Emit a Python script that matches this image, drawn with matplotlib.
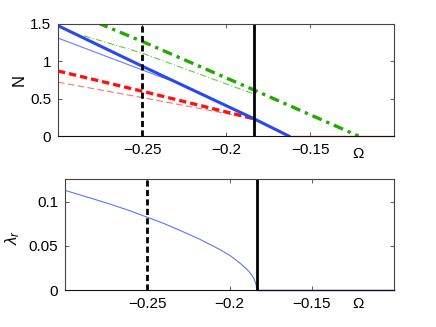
import matplotlib
matplotlib.use("Agg")
import matplotlib.pyplot as plt

plt.rcParams['font.family'] = ['Liberation Sans', 'DejaVu Sans']
plt.rcParams['mathtext.fontset'] = 'custom'
plt.rcParams['mathtext.rm'] = 'Liberation Sans'
plt.rcParams['mathtext.it'] = 'Liberation Sans:italic'

# ---- data ----
omega_crit = -0.1833
omega_dash = -0.25

# top panel: N vs Omega
blue_thick_x = [-0.30, -0.25, -0.1833, -0.1627]
blue_thick_y = [1.476, 0.935, 0.23, 0.0]
blue_thin_x = [-0.30, -0.28, -0.26, -0.25, -0.24, -0.23, -0.1833]
blue_thin_y = [1.31, 1.14, 0.97, 0.885, 0.80, 0.72, 0.23]
red_thick_x = [-0.30, -0.25, -0.1833]
red_thick_y = [0.87, 0.60, 0.23]
red_thin_x = [-0.30, -0.25, -0.1833]
red_thin_y = [0.72, 0.515, 0.23]
red_zero_x = [-0.1627, -0.10]
red_zero_y = [0.0, 0.0]
green_thick_x = [-0.276, -0.25, -0.1833, -0.1212]
green_thick_y = [1.51, 1.266, 0.615, 0.0]
green_thin_x = [-0.2845, -0.25, -0.1833]
green_thin_y = [1.34, 1.11, 0.56]

# bottom panel: lambda_r vs Omega
lam_x = [-0.30, -0.285, -0.2727, -0.26, -0.25, -0.24, -0.23, -0.218, -0.206,
         -0.20, -0.194, -0.19, -0.188, -0.186, -0.185, -0.1840, -0.1833]
lam_y = [0.113, 0.1045, 0.0975, 0.0895, 0.0825, 0.0755, 0.0675, 0.0575, 0.046,
         0.0395, 0.031, 0.0245, 0.0205, 0.0155, 0.012, 0.007, 0.0]
lam_zero_x = [-0.1833, -0.10]
lam_zero_y = [0.0, 0.0]

xticks = [-0.25, -0.2, -0.15]
xticklabels = ['\u22120.25', '\u22120.2', '\u22120.15']
top_yticks = [0, 0.5, 1, 1.5]
top_yticklabels = ['0', '0.5', '1', '1.5']
bot_yticks = [0, 0.05, 0.1]
bot_yticklabels = ['0', '0.05', '0.1']

fig = plt.figure(figsize=(4.36, 3.27), dpi=100)
ax1 = fig.add_axes([0.133, 0.584, 0.771, 0.343])
ax2 = fig.add_axes([0.149, 0.113, 0.755, 0.340])

def style(ax):
    ax.tick_params(direction='in', top=True, right=True, labelsize=11,
                   length=3, width=0.6, color='#444444', pad=5)
    for s in ax.spines.values():
        s.set_color('#444444')
        s.set_linewidth(0.8)
    ax.spines['bottom'].set_color('#111111')
    ax.set_xlim(-0.30, -0.10)
    ax.set_xticks(xticks)
    ax.set_xticklabels(xticklabels)

# top
ax1.plot(green_thin_x, green_thin_y, color='#66cc44', lw=0.8, ls=(0, (6, 2, 1, 2)))
ax1.plot(red_thin_x, red_thin_y, color='#ff7070', lw=0.8, ls=(0, (6, 3)))
ax1.plot(blue_thin_x, blue_thin_y, color='#6a7cf5', lw=0.8)
ax1.plot(red_zero_x, red_zero_y, color='#ff8888', lw=1.0, clip_on=False)
ax1.plot(green_thick_x, green_thick_y, color='#22aa00', lw=2.4, ls=(0, (3, 1.5, 1, 1.5)))
ax1.plot(red_thick_x, red_thick_y, color='#ff1010', lw=2.4, ls=(0, (2.2, 1.2)))
ax1.plot(blue_thick_x, blue_thick_y, color='#2848f0', lw=2.2)
ax1.axvline(omega_dash, color='black', lw=2.0, ls=(0, (2.2, 1.2)))
ax1.axvline(omega_crit, color='black', lw=2.0)
ax1.set_ylim(0, 1.5)
ax1.set_yticks(top_yticks)
ax1.set_yticklabels(top_yticklabels)
style(ax1)

# bottom
ax2.plot(lam_x, lam_y, color='#5a78f0', lw=0.8)
ax2.plot(lam_zero_x, lam_zero_y, color='#2030a0', lw=1.0, clip_on=False)
ax2.axvline(omega_dash, color='black', lw=2.0, ls=(0, (2.2, 1.2)))
ax2.axvline(omega_crit, color='black', lw=2.0)
ax2.set_ylim(0, 0.126)
ax2.set_yticks(bot_yticks)
ax2.set_yticklabels(bot_yticklabels)
style(ax2)

fig.text(19/436, 1 - 80/327, 'N', fontsize=12, rotation=90, ha='center', va='center')
fig.text(13/436, 1 - 237/327, r'$\lambda_r$', fontsize=12, rotation=90, ha='center', va='center')
fig.text(358/436, 1 - 154/327, '\u03a9', fontsize=11, ha='center', va='center')
fig.text(358/436, 1 - 304/327, '\u03a9', fontsize=11, ha='center', va='center')

fig.savefig('out.png', dpi=100)
